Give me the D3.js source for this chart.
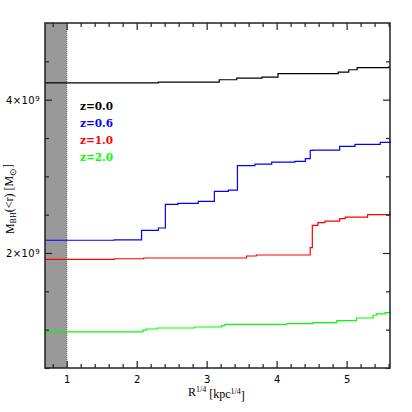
<!DOCTYPE html>
<html>
<head>
<meta charset="utf-8">
<script src="https://cdn.jsdelivr.net/npm/d3@7"></script>
<style>
  body { margin: 0; background: #fff; }
  svg { display: block; }
</style>
</head>
<body>
<div id="chart"></div>
<script>
const w = 412,
      h = 412;

const margin = {top: 23, right: 22, bottom: 44, left: 45};
const iw = w - margin.left - margin.right,
      ih = h - margin.top - margin.bottom;

// data: R^1/4 positions and enclosed BH mass (units of 1e9)
const seriesNames = ["z=0.0", "z=0.6", "z=1.0", "z=2.0"];
const seriesColors = ["#000000", "#0000ff", "#ff0000", "#00ff00"];

const blackR = [0.69, 2.31, 3.18, 3.43, 3.79, 4.02, 4.88, 5.03, 5.15, 5.60, 5.62];
const blackM = [4.22, 4.23, 4.26, 4.28, 4.295, 4.34, 4.36, 4.39, 4.417, 4.425, 4.425];

const blueR = [0.69, 1.68, 2.07, 2.31, 2.41, 2.59, 2.88, 3.11, 3.31, 3.44, 3.69, 3.93, 4.26, 4.41, 4.48, 4.52, 4.90, 5.12, 5.48, 5.62];
const blueM = [2.166, 2.17, 2.296, 2.326, 2.635, 2.648, 2.674, 2.804, 2.821, 3.139, 3.160, 3.186, 3.196, 3.231, 3.339, 3.343, 3.391, 3.417, 3.443, 3.469];

const redR = [0.69, 1.68, 2.10, 3.57, 3.71, 4.48, 4.51, 4.59, 4.69, 4.90, 4.98, 5.30, 5.62];
const redM = [1.918, 1.925, 1.935, 1.961, 1.974, 2.07, 2.361, 2.396, 2.417, 2.448, 2.469, 2.50, 2.535];

const greenR = [0.69, 2.09, 2.14, 2.29, 2.83, 3.21, 3.26, 4.14, 4.52, 4.86, 5.14, 5.38, 5.43, 5.55, 5.62];
const greenM = [0.970, 0.993, 1.009, 1.022, 1.035, 1.053, 1.070, 1.079, 1.093, 1.119, 1.152, 1.188, 1.205, 1.223, 1.240];

const seriesR = [blackR, blueR, redR, greenR];
const seriesM = [blackM, blueM, redM, greenM];

const xMajor = [1, 2, 3, 4, 5];
const xMinor = [0.8, 1.2, 1.4, 1.6, 1.8, 2.2, 2.4, 2.6, 2.8, 3.2, 3.4, 3.6, 3.8, 4.2, 4.4, 4.6, 4.8, 5.2, 5.4, 5.6];
const yMajor = [2, 4];
const yMinor = [0.5, 1, 1.5, 2.5, 3, 3.5, 4.5];

const innerLimit = 1; // resolution limit shaded on the left

const svg = d3.select("#chart")
  .append("svg")
  .attr("width", w)
  .attr("height", h)
  .append("g")
  .attr("transform", "translate(" + margin.left + "," + margin.top + ")");

const x = d3.scaleLinear().domain([0.69, 5.62]).range([0, iw]);
const y = d3.scaleLinear().domain([0.5, 5.0]).range([ih, 0]);

// shaded region
svg.append("rect")
  .attr("x", 0)
  .attr("y", 0)
  .attr("width", x(innerLimit))
  .attr("height", ih)
  .style("fill", "#999999");

svg.append("line")
  .attr("x1", x(innerLimit)).attr("x2", x(innerLimit))
  .attr("y1", 0).attr("y2", ih)
  .style("stroke", "#555")
  .style("stroke-width", 1)
  .style("stroke-dasharray", "1,1");

// the profiles
const line = d3.line()
  .x(d => x(d[0]))
  .y(d => y(d[1]))
  .curve(d3.curveStepAfter);

seriesR.forEach((rs, i) => {
  const pts = rs.map((r, j) => [r, seriesM[i][j]]);
  svg.append("path")
    .datum(pts)
    .attr("d", line)
    .style("fill", "none")
    .style("stroke", seriesColors[i])
    .style("stroke-width", 1.2);
});

// axes, ticks inward on all four sides
function drawTicks(axisFn, scale, vals, len, transform, labels) {
  const g = svg.append("g")
    .attr("transform", transform)
    .call(axisFn(scale).tickValues(vals).tickSizeInner(-len).tickSizeOuter(0)
      .tickFormat(labels ? d3.format("d") : ""));
  g.select(".domain").remove();
  g.selectAll(".tick line").style("stroke", "#222").style("stroke-width", 1.2);
  return g;
}

drawTicks(d3.axisBottom, x, xMinor, 4, "translate(0," + ih + ")", false);
drawTicks(d3.axisTop, x, xMinor, 4, "translate(0,0)", false);
drawTicks(d3.axisTop, x, xMajor, 7, "translate(0,0)", false);
drawTicks(d3.axisLeft, y, yMinor, 4, "translate(0,0)", false);
drawTicks(d3.axisRight, y, yMinor, 4, "translate(" + iw + ",0)", false);
drawTicks(d3.axisRight, y, yMajor, 7, "translate(" + iw + ",0)", false);

const xAxisGroup = drawTicks(d3.axisBottom, x, xMajor, 7, "translate(0," + ih + ")", true);
xAxisGroup.selectAll(".tick text")
  .attr("y", 8)
  .style("font-family", "DejaVu Sans")
  .style("font-size", "10px")
  .style("fill", "#000");

const yAxisGroup = drawTicks(d3.axisLeft, y, yMajor, 7, "translate(0,0)", true);
yAxisGroup.selectAll(".tick text").remove();
yAxisGroup.selectAll(".tick").append("text")
  .attr("x", -5)
  .attr("dy", "0.38em")
  .attr("text-anchor", "end")
  .style("font-family", "DejaVu Sans")
  .style("font-size", "10px")
  .style("letter-spacing", "0.4px")
  .style("fill", "#000")
  .each(function(d) {
    const t = d3.select(this);
    t.append("tspan").text(d + "\u00d710");
    t.append("tspan").attr("dy", "-0.45em").style("font-size", "7px").text("9");
  });

// frame
svg.append("rect")
  .attr("width", iw)
  .attr("height", ih)
  .style("fill", "none")
  .style("stroke", "#222")
  .style("stroke-width", 1.5);

// legend
seriesNames.forEach((name, i) => {
  svg.append("text")
    .attr("x", 80 - margin.left)
    .attr("y", 109.5 - margin.top + i * 17.2)
    .style("font-family", "DejaVu Serif")
    .style("font-weight", "bold")
    .style("font-size", "10.5px")
    .style("fill", seriesColors[i])
    .text(name);
});

// axis titles
const xt = svg.append("text")
  .attr("x", x(3.14))
  .attr("y", ih + 28)
  .attr("text-anchor", "middle")
  .style("font-family", "Liberation Serif")
  .style("font-size", "12px");
xt.append("tspan").text("R");
xt.append("tspan").attr("dy", "-0.45em").style("font-size", "8px").text("1/4");
xt.append("tspan").attr("dy", "0.45em").text(" [kpc");
xt.append("tspan").attr("dy", "-0.45em").style("font-size", "8px").text("1/4");
xt.append("tspan").attr("dy", "0.45em").text("]");

const yt = svg.append("text")
  .attr("transform", "translate(" + (-31) + "," + (199 - margin.top) + ") rotate(-90)")
  .attr("text-anchor", "middle")
  .style("font-family", "Liberation Serif")
  .style("font-size", "12px");
yt.append("tspan").text("M");
yt.append("tspan").attr("dy", "0.3em").style("font-size", "8px").text("BH");
yt.append("tspan").attr("dy", "-0.3em").text("(<r) [M");
yt.append("tspan").attr("dy", "0.3em").style("font-size", "9px").text("\u2299");
yt.append("tspan").attr("dy", "-0.3em").text("]");
</script>
</body>
</html>
